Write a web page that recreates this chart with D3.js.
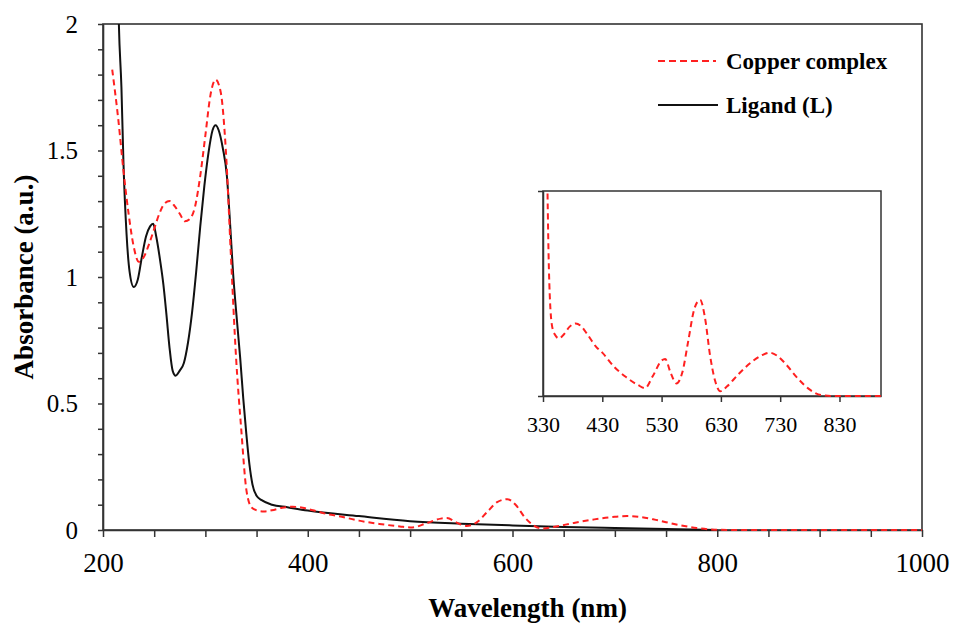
<!DOCTYPE html>
<html><head><meta charset="utf-8">
<script src="https://cdn.jsdelivr.net/npm/d3@7"></script>
<style>body{margin:0;background:#fff}</style>
</head><body>
<svg id="chart" width="954" height="625"></svg>
<script>
// ---- data ----
const copperWl  = [209, 215, 220, 225, 230, 235, 240, 245, 250, 255, 260, 265, 270, 275, 280, 285, 290, 295, 300, 305, 310, 315, 320, 325, 330, 335, 340, 345, 350, 357, 365, 375, 385, 395, 405, 420, 430, 450, 470, 490, 502, 515, 530, 536, 545, 555, 565, 575, 585, 595, 603, 612, 620, 629, 640, 660, 680, 700, 712, 725, 740, 760, 780, 800, 820, 900, 1000];
const copperAbs = [1.82, 1.62, 1.42, 1.25, 1.12, 1.06, 1.08, 1.13, 1.19, 1.25, 1.29, 1.30, 1.28, 1.25, 1.22, 1.23, 1.28, 1.40, 1.56, 1.72, 1.78, 1.73, 1.50, 1.08, 0.68, 0.40, 0.16, 0.09, 0.078, 0.073, 0.078, 0.088, 0.092, 0.088, 0.078, 0.062, 0.055, 0.037, 0.024, 0.014, 0.010, 0.025, 0.045, 0.047, 0.030, 0.016, 0.030, 0.070, 0.110, 0.122, 0.100, 0.050, 0.020, 0.006, 0.012, 0.028, 0.042, 0.052, 0.055, 0.051, 0.040, 0.022, 0.008, 0.001, 0, 0, 0];
const ligandWl  = [213, 215.5, 218, 220, 223, 226, 230, 234, 238, 242, 246, 249, 252, 256, 259, 262, 265, 268, 271, 275, 279, 283, 287, 291, 295, 299, 303, 307, 310, 313, 317, 321, 324, 327, 331, 334, 337, 340, 343, 346, 350, 355, 365, 380, 400, 450, 500, 550, 600, 650, 700, 750, 800];
const ligandAbs = [2.6, 2.0, 1.75, 1.45, 1.17, 1.02, 0.96, 0.99, 1.08, 1.16, 1.20, 1.21, 1.16, 1.06, 0.97, 0.85, 0.72, 0.63, 0.61, 0.63, 0.66, 0.74, 0.86, 1.02, 1.20, 1.36, 1.49, 1.58, 1.60, 1.58, 1.51, 1.40, 1.22, 1.02, 0.82, 0.68, 0.52, 0.38, 0.26, 0.18, 0.135, 0.118, 0.100, 0.090, 0.077, 0.055, 0.035, 0.025, 0.018, 0.012, 0.008, 0.004, 0.0];

const seriesNames   = ["Copper complex", "Ligand (L)"];
const xTickValues   = d3.range(200, 1001, 50);
const xTickLabels   = [200, 400, 600, 800, 1000];
const yTickValues   = d3.range(0, 21).map(i => i / 10);
const yTickLabels   = [0, 0.5, 1, 1.5, 2];
const insetXDomain  = [330, 900];
const insetYDomain  = [0, 0.26];
const insetXTicks   = [330, 430, 530, 630, 730, 830];
const xTitle = "Wavelength (nm)";
const yTitle = "Absorbance  (a.u.)";

// ---- build ----
const copper = copperWl.map((w, i) => ({w, a: copperAbs[i]}));
const ligand = ligandWl.map((w, i) => ({w, a: ligandAbs[i]}));

const svg = d3.select("#chart");
const FONT = "'Liberation Serif', 'Times New Roman', serif";
const L = 103, R = 922, T = 24, B = 530;

const x = d3.scaleLinear().domain([200, 1000]).range([L, R]);
const y = d3.scaleLinear().domain([0, 2]).range([B, T]);

const defs = svg.append("defs");
defs.append("clipPath").attr("id", "mainClip").append("rect")
  .attr("x", L).attr("y", T).attr("width", R - L).attr("height", B - T + 2);

// frame
svg.append("rect").attr("x", L).attr("y", T).attr("width", R - L).attr("height", B - T)
  .attr("fill", "none").attr("stroke", "#333").attr("stroke-width", 1.6);

// axes
const fmt = d => String(+d.toFixed(1));
const xAxis = d3.axisBottom(x).tickValues(xTickValues).tickSize(7).tickSizeOuter(0)
  .tickFormat(d => xTickLabels.includes(d) ? fmt(d) : "");
const gx = svg.append("g").attr("transform", `translate(0,${B})`).call(xAxis);
gx.selectAll("text").attr("dy", null).attr("y", 42)
  .style("font-family", FONT).style("font-size", "27px").attr("fill", "#000");

const yAxis = d3.axisLeft(y).tickValues(yTickValues).tickSize(5).tickSizeOuter(0).tickPadding(20)
  .tickFormat(d => yTickLabels.some(v => Math.abs(v - d) < 1e-9) ? fmt(d) : "");
const gy = svg.append("g").attr("transform", `translate(${L},0)`).call(yAxis);
gy.selectAll("text").style("font-family", FONT).style("font-size", "25px").attr("fill", "#000");

[gx, gy].forEach(g => {
  g.select(".domain").attr("stroke", "#333").attr("stroke-width", 1.6);
  g.selectAll(".tick line").attr("stroke", "#333").attr("stroke-width", 1.5);
});

// lines (drawn over the axes, as in the reference)
const lineMain = d3.line().x(d => x(d.w)).y(d => y(d.a)).curve(d3.curveMonotoneX);
const plot = svg.append("g").attr("clip-path", "url(#mainClip)");
plot.append("path").datum(ligand).attr("d", lineMain)
  .attr("fill", "none").attr("stroke", "#111").attr("stroke-width", 2);
plot.append("path").datum(copper).attr("d", lineMain)
  .attr("fill", "none").attr("stroke", "#ff2020").attr("stroke-width", 2)
  .attr("stroke-dasharray", "6,4");

// titles
svg.append("text").attr("x", (L + R) / 2 + 15).attr("y", 617).attr("text-anchor", "middle")
  .style("font-family", FONT).style("font-size", "27px").style("font-weight", "bold")
  .text(xTitle);
svg.append("text").attr("transform", "translate(33,277) rotate(-90)").attr("text-anchor", "middle")
  .style("font-family", FONT).style("font-size", "27px").style("font-weight", "bold")
  .text(yTitle);

// legend
const legend = svg.append("g");
const legY = [61, 105];
legend.append("line").attr("x1", 658).attr("x2", 716).attr("y1", legY[0]).attr("y2", legY[0])
  .attr("stroke", "#ff2020").attr("stroke-width", 2).attr("stroke-dasharray", "7,4");
legend.append("line").attr("x1", 658).attr("x2", 718).attr("y1", legY[1]).attr("y2", legY[1])
  .attr("stroke", "#111").attr("stroke-width", 2);
seriesNames.forEach((n, i) => {
  legend.append("text").attr("x", 726).attr("y", legY[i] + 8)
    .style("font-family", FONT).style("font-size", "23px").style("font-weight", "bold")
    .text(n);
});

// inset
const iL = 543, iR = 881, iT = 191, iB = 396;
const xi = d3.scaleLinear().domain(insetXDomain).range([iL, iR]);
const yi = d3.scaleLinear().domain(insetYDomain).range([iB, iT]);
defs.append("clipPath").attr("id", "insetClip").append("rect")
  .attr("x", iL).attr("y", iT).attr("width", iR - iL).attr("height", iB - iT + 2);
svg.append("rect").attr("x", iL).attr("y", iT).attr("width", iR - iL).attr("height", iB - iT)
  .attr("fill", "#fff").attr("stroke", "#333").attr("stroke-width", 1.5);
const gxi = svg.append("g").attr("transform", `translate(0,${iB})`)
  .call(d3.axisBottom(xi).tickValues(insetXTicks).tickSize(6).tickSizeOuter(0).tickFormat(d3.format("d")));
gxi.selectAll("text").attr("dy", null).attr("y", 36)
  .style("font-family", FONT).style("font-size", "22px").attr("fill", "#000");
const gyi = svg.append("g").attr("transform", `translate(${iL},0)`)
  .call(d3.axisLeft(yi).tickValues(insetYDomain).tickSize(5).tickSizeOuter(0).tickFormat(""));
[gxi, gyi].forEach(g => {
  g.select(".domain").attr("stroke", "#333").attr("stroke-width", 1.5);
  g.selectAll(".tick line").attr("stroke", "#333").attr("stroke-width", 1.5);
});
const lineInset = d3.line().x(d => xi(d.w)).y(d => yi(d.a)).curve(d3.curveMonotoneX);
svg.append("g").attr("clip-path", "url(#insetClip)")
  .append("path").datum(copper.filter(d => d.w >= 320 && d.w <= 900)).attr("d", lineInset)
  .attr("fill", "none").attr("stroke", "#ff2020").attr("stroke-width", 2)
  .attr("stroke-dasharray", "6,4");
</script>
</body></html>
